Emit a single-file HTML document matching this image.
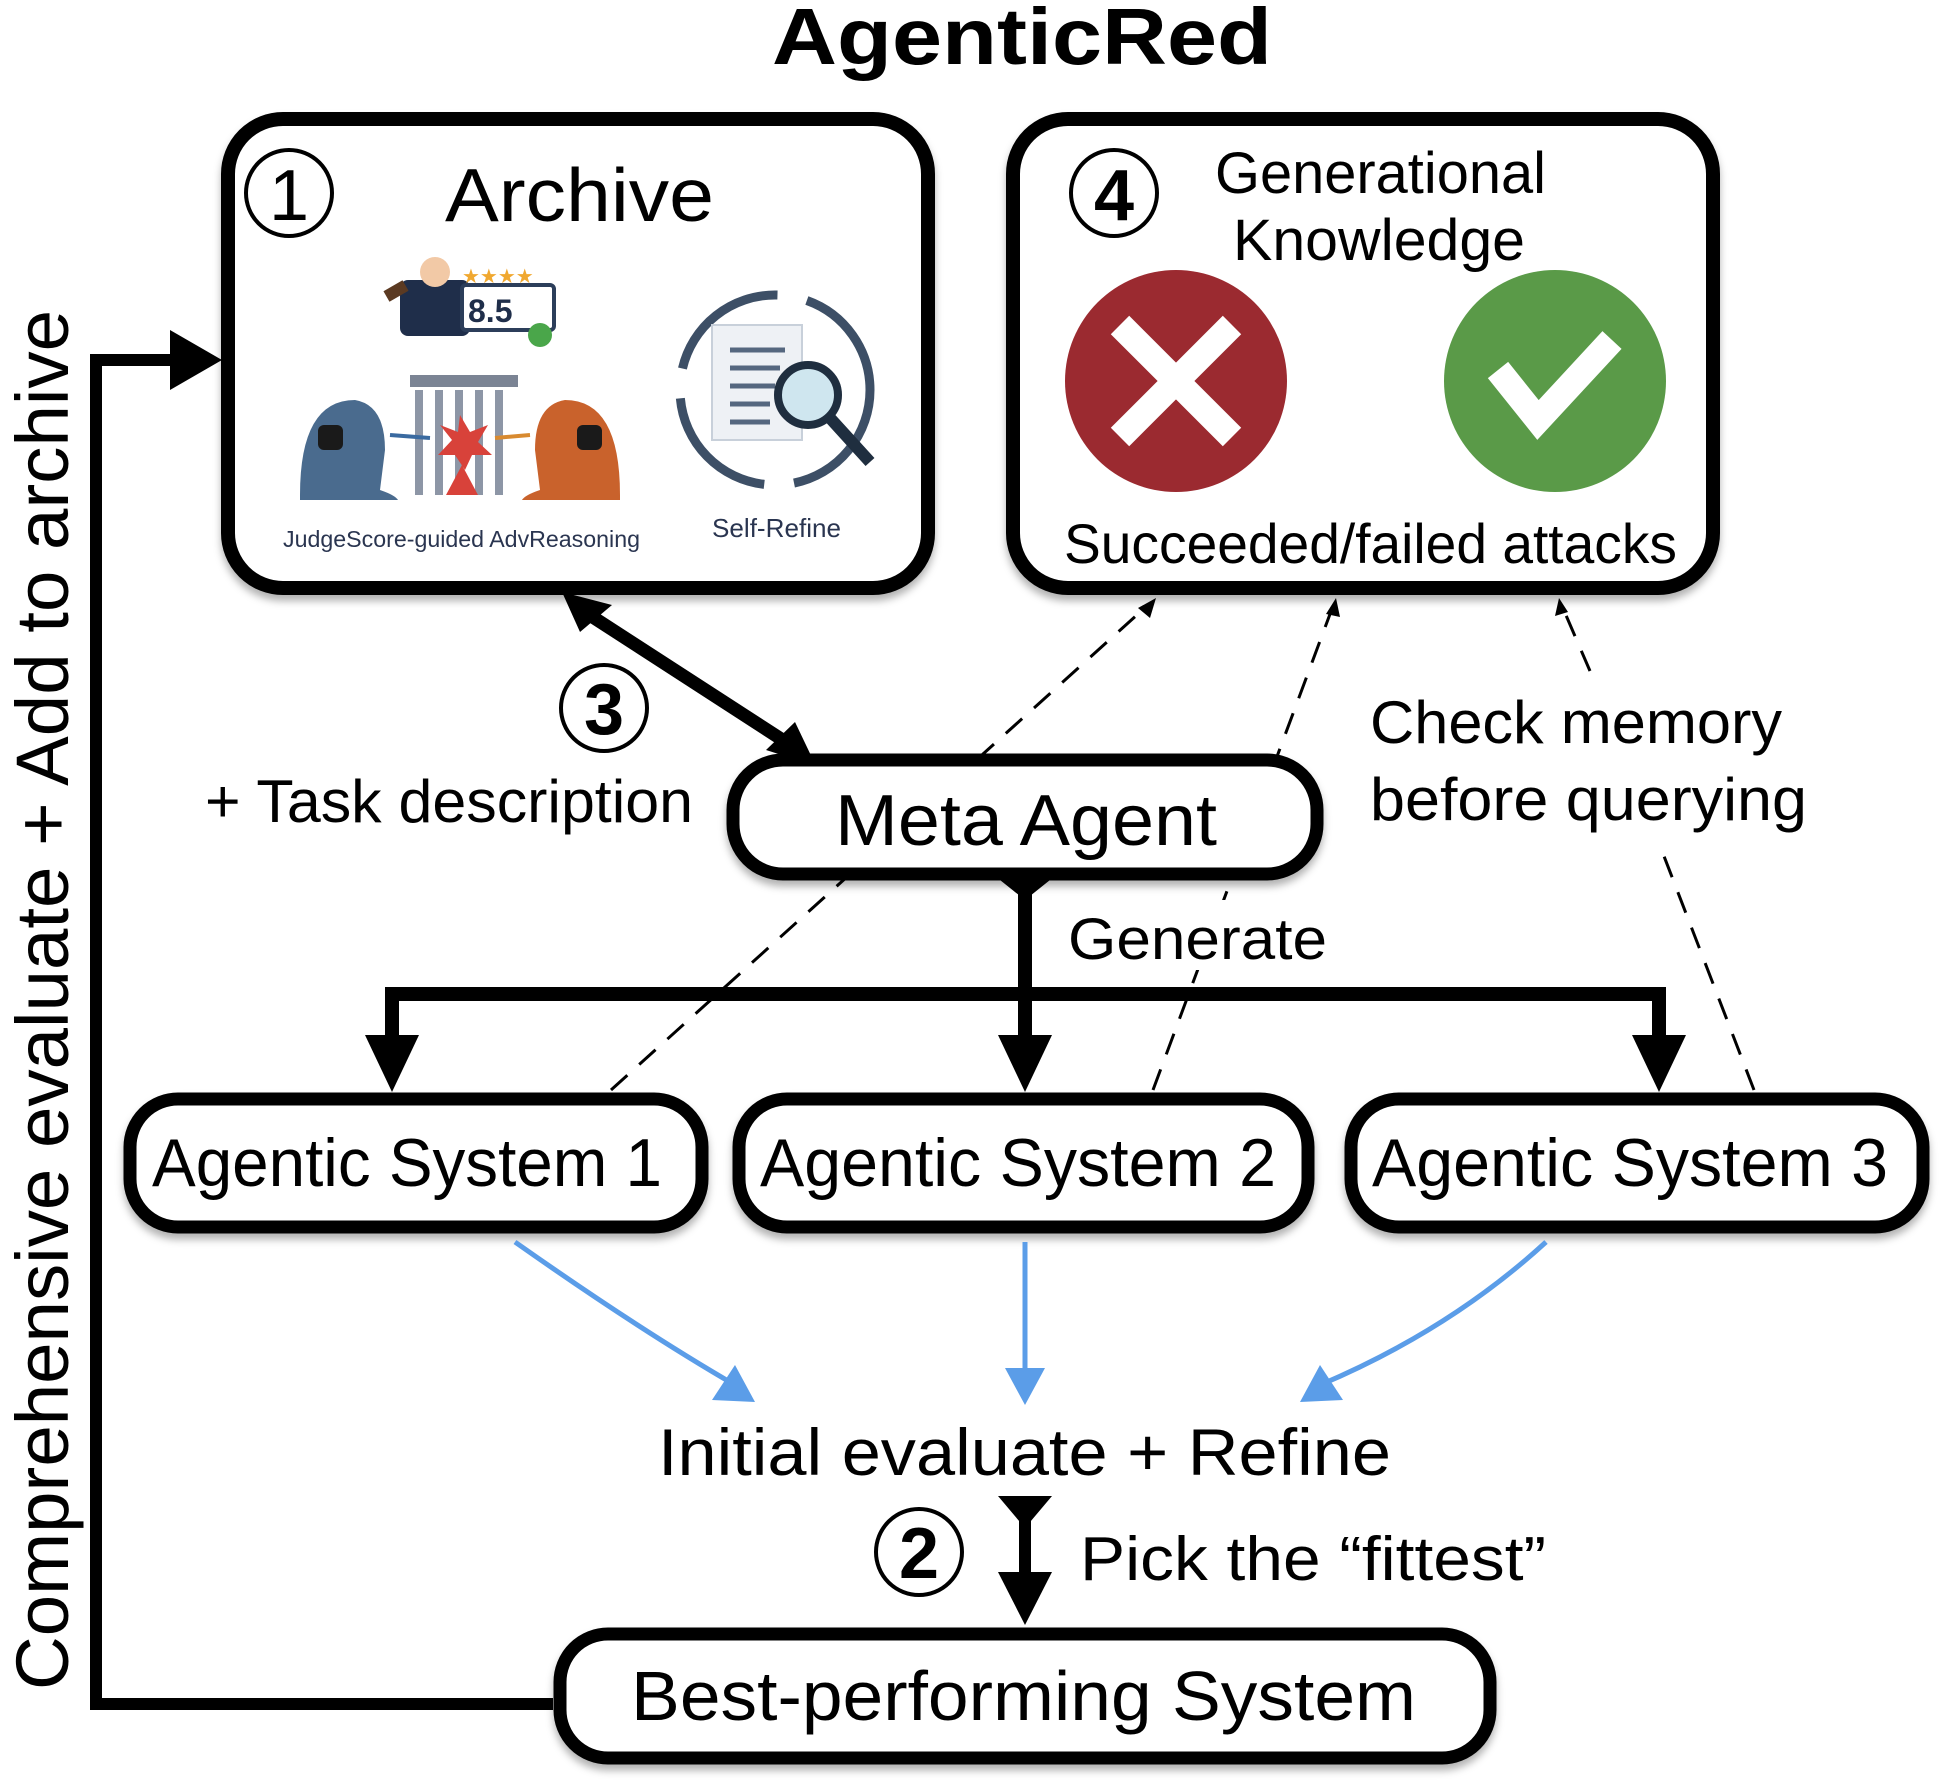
<!DOCTYPE html>
<html><head><meta charset="utf-8"><style>
html,body{margin:0;padding:0;background:#fff;}
svg{display:block;}
text{font-family:"Liberation Sans",sans-serif;fill:#000;}
</style></head><body>
<svg width="1948" height="1785" viewBox="0 0 1948 1785" xmlns="http://www.w3.org/2000/svg">
<defs>
<filter id="sh" x="-10%" y="-10%" width="120%" height="130%"><feDropShadow dx="0" dy="6" stdDeviation="4" flood-color="#000" flood-opacity="0.3"/></filter>
</defs>

<text x="1022" y="64" font-size="80" font-weight="bold" text-anchor="middle" textLength="500" lengthAdjust="spacingAndGlyphs">AgenticRed</text>

<g stroke="#000" stroke-width="3" stroke-dasharray="22,16" fill="none">
<line x1="611" y1="1090" x2="1148" y2="605"/>
<line x1="1153" y1="1090" x2="1333" y2="606"/>
<line x1="1754" y1="1090" x2="1662" y2="851"/>
<line x1="1590" y1="671" x2="1562" y2="606"/>
</g>
<g fill="#000">
<polygon points="1156,598 1138,608 1150,618"/>
<polygon points="1336,598 1326,614 1340,617"/>
<polygon points="1559,598 1555,616 1568,612"/>
</g>

<rect x="228" y="119" width="700" height="469" rx="55" fill="#fff" stroke="#000" stroke-width="14" filter="url(#sh)"/>
<circle cx="289" cy="193" r="43" fill="none" stroke="#000" stroke-width="4"/>
<text x="289" y="220" font-size="72" text-anchor="middle">1</text>
<text x="445" y="221" font-size="75" textLength="269" lengthAdjust="spacingAndGlyphs">Archive</text>
<g>
<rect x="400" y="280" width="70" height="56" rx="8" fill="#1f2e4a"/>
<circle cx="435" cy="272" r="15" fill="#f2c9a6"/>
<rect x="462" y="285" width="92" height="45" rx="4" fill="#fff" stroke="#2c3e5a" stroke-width="4"/>
<text x="468" y="322" font-size="32" font-weight="bold" style="fill:#1f2e4a">8.5</text>
<circle cx="540" cy="335" r="12" fill="#4aa64a"/>
<text x="462" y="283" font-size="20" style="fill:#f0a830">★★★★</text>
<rect x="385" y="285" width="22" height="12" fill="#5b3a22" transform="rotate(-30 396 291)"/>
<rect x="410" y="375" width="108" height="12" fill="#7b8494"/>
<g fill="#8d96a6"><rect x="415" y="390" width="8" height="105"/><rect x="435" y="390" width="8" height="105"/><rect x="455" y="390" width="8" height="105"/><rect x="475" y="390" width="8" height="105"/><rect x="495" y="390" width="8" height="105"/></g>
<polygon points="460,415 470,432 488,425 478,442 492,455 472,455 465,470 455,455 438,455 452,440 440,425 458,432" fill="#d8423a"/>
<polygon points="462,465 478,495 446,495" fill="#d8423a"/>
<path d="M300 495 Q300 400 355 400 Q385 405 385 450 L380 490 Q395 495 398 500 L300 500Z" fill="#4a6b8e"/>
<rect x="318" y="425" width="25" height="25" rx="6" fill="#1a1a1a"/>
<path d="M620 495 Q620 400 565 400 Q535 405 535 450 L540 490 Q525 495 522 500 L620 500Z" fill="#c9622c"/>
<rect x="577" y="425" width="25" height="25" rx="6" fill="#1a1a1a"/>
<line x1="390" y1="435" x2="430" y2="438" stroke="#3a6aa0" stroke-width="4"/>
<line x1="530" y1="435" x2="495" y2="438" stroke="#d88a30" stroke-width="4"/>
</g>
<text x="283" y="547" font-size="23" textLength="357" lengthAdjust="spacingAndGlyphs" style="fill:#2a3550">JudgeScore-guided AdvReasoning</text>
<g>
<circle cx="775" cy="390" r="95" fill="none" stroke="#3d4f66" stroke-width="9" stroke-dasharray="130,30"/>
<rect x="712" y="325" width="90" height="115" fill="#eef1f5" stroke="#c8d0da" stroke-width="2"/>
<g stroke="#55677f" stroke-width="5"><line x1="730" y1="350" x2="785" y2="350"/><line x1="730" y1="368" x2="780" y2="368"/><line x1="730" y1="386" x2="775" y2="386"/><line x1="730" y1="404" x2="770" y2="404"/><line x1="730" y1="422" x2="770" y2="422"/></g>
<circle cx="808" cy="395" r="30" fill="#cfe6ef" stroke="#1f2e3f" stroke-width="8"/>
<line x1="830" y1="418" x2="870" y2="462" stroke="#1f2e3f" stroke-width="12"/>
</g>
<text x="712" y="537" font-size="26" textLength="129" lengthAdjust="spacingAndGlyphs" style="fill:#2a3550">Self-Refine</text>

<rect x="1013" y="119" width="700" height="469" rx="55" fill="#fff" stroke="#000" stroke-width="14" filter="url(#sh)"/>
<circle cx="1114" cy="193" r="43" fill="none" stroke="#000" stroke-width="4"/>
<text x="1114" y="220" font-size="72" font-weight="bold" text-anchor="middle">4</text>
<text x="1215" y="193" font-size="58" textLength="331" lengthAdjust="spacingAndGlyphs">Generational</text>
<text x="1233" y="260" font-size="58" textLength="292" lengthAdjust="spacingAndGlyphs">Knowledge</text>
<circle cx="1176" cy="381" r="111" fill="#9b2a30"/>
<path d="M1120 325 L1232 437 M1232 325 L1120 437" stroke="#fff" stroke-width="26"/>
<circle cx="1555" cy="381" r="111" fill="#5a9a48"/>
<path d="M1498 370 L1538 420 L1612 340" stroke="#fff" stroke-width="26" fill="none"/>
<text x="1064" y="563" font-size="56" textLength="613" lengthAdjust="spacingAndGlyphs">Succeeded/failed attacks</text>

<polyline points="553,1704 96,1704 96,360 180,360" fill="none" stroke="#000" stroke-width="12"/>
<polygon points="170,330 222,360 170,390" fill="#000"/>
<text transform="translate(68,1690) rotate(-90)" font-size="74" textLength="1380" lengthAdjust="spacingAndGlyphs">Comprehensive evaluate + Add to archive</text>

<line x1="585" y1="612" x2="795" y2="748" stroke="#000" stroke-width="13"/>
<polygon points="562,592 612,605 580,632" fill="#000"/>
<polygon points="816,766 766,750 795,722" fill="#000"/>
<circle cx="604" cy="708" r="43" fill="none" stroke="#000" stroke-width="4"/>
<text x="604" y="734" font-size="72" font-weight="bold" text-anchor="middle">3</text>
<text x="205" y="822" font-size="60" textLength="488" lengthAdjust="spacingAndGlyphs">+ Task description</text>

<text x="1370" y="743" font-size="60" textLength="412" lengthAdjust="spacingAndGlyphs">Check memory</text>
<text x="1370" y="820" font-size="60" textLength="437" lengthAdjust="spacingAndGlyphs">before querying</text>

<rect x="1062" y="900" width="272" height="70" fill="#fff"/>
<g stroke="#000" stroke-width="14" fill="none">
<line x1="1025" y1="880" x2="1025" y2="1045"/>
<polyline points="392,1045 392,994 1659,994 1659,1045"/>
</g>
<g fill="#000">
<polygon points="1000,880 1050,880 1025,900"/>
<polygon points="365,1035 419,1035 392,1092"/>
<polygon points="998,1035 1052,1035 1025,1092"/>
<polygon points="1632,1035 1686,1035 1659,1092"/>
</g>
<text x="1068" y="959" font-size="58" textLength="259" lengthAdjust="spacingAndGlyphs">Generate</text>

<rect x="733" y="760" width="584" height="114" rx="50" fill="#fff" stroke="#000" stroke-width="13" filter="url(#sh)"/>
<text x="835" y="845" font-size="72" textLength="382" lengthAdjust="spacingAndGlyphs">Meta Agent</text>

<rect x="130" y="1099" width="572" height="128" rx="48" fill="#fff" stroke="#000" stroke-width="13" filter="url(#sh)"/>
<text x="152" y="1186" font-size="68" textLength="510" lengthAdjust="spacingAndGlyphs">Agentic System 1</text>
<rect x="739" y="1099" width="569" height="128" rx="48" fill="#fff" stroke="#000" stroke-width="13" filter="url(#sh)"/>
<text x="760" y="1186" font-size="68" textLength="516" lengthAdjust="spacingAndGlyphs">Agentic System 2</text>
<rect x="1351" y="1099" width="572" height="128" rx="48" fill="#fff" stroke="#000" stroke-width="13" filter="url(#sh)"/>
<text x="1372" y="1186" font-size="68" textLength="516" lengthAdjust="spacingAndGlyphs">Agentic System 3</text>

<g stroke="#5b9de8" stroke-width="5" fill="none">
<path d="M515 1242 Q640 1330 735 1385"/>
<path d="M1025 1242 L1025 1385"/>
<path d="M1546 1242 Q1450 1330 1320 1385"/>
</g>
<g fill="#5b9de8">
<polygon points="755,1402 712,1400 735,1365"/>
<polygon points="1025,1405 1005,1368 1045,1368"/>
<polygon points="1300,1402 1343,1400 1320,1365"/>
</g>

<text x="658" y="1475" font-size="66" textLength="733" lengthAdjust="spacingAndGlyphs">Initial evaluate + Refine</text>

<polygon points="998,1496 1052,1496 1025,1528" fill="#000"/>
<line x1="1025" y1="1510" x2="1025" y2="1585" stroke="#000" stroke-width="12"/>
<polygon points="998,1572 1052,1572 1025,1625" fill="#000"/>
<circle cx="919" cy="1552" r="43" fill="none" stroke="#000" stroke-width="4"/>
<text x="919" y="1578" font-size="72" font-weight="bold" text-anchor="middle">2</text>
<text x="1080" y="1580" font-size="62" textLength="466" lengthAdjust="spacingAndGlyphs">Pick the “fittest”</text>

<rect x="560" y="1634" width="930" height="124" rx="48" fill="#fff" stroke="#000" stroke-width="13" filter="url(#sh)"/>
<text x="631" y="1720" font-size="70" textLength="785" lengthAdjust="spacingAndGlyphs">Best-performing System</text>
</svg>
</body></html>
